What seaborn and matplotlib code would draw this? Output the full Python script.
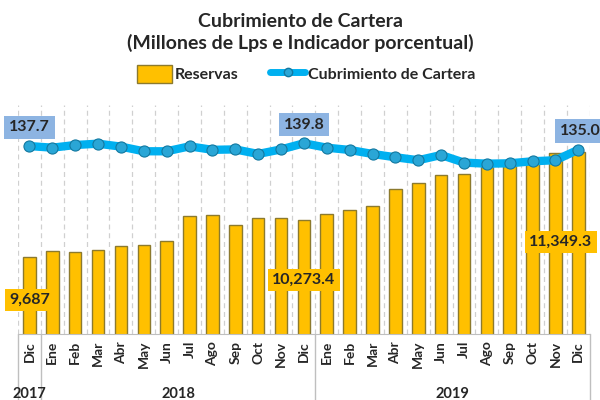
import matplotlib
matplotlib.use("Agg")
import matplotlib.pyplot as plt
import numpy as np
import pandas as pd
import seaborn as sns
from matplotlib.lines import Line2D
from matplotlib.patches import Patch

# data
months = ["Dic", "Ene", "Feb", "Mar", "Abr", "May", "Jun", "Jul", "Ago", "Sep", "Oct", "Nov",
          "Dic", "Ene", "Feb", "Mar", "Abr", "May", "Jun", "Jul", "Ago", "Sep", "Oct", "Nov", "Dic"]
years = ["2017", "2018", "2019"]
reservas = [9687.0, 9782, 9757, 9798, 9856, 9877, 9936, 10327, 10347, 10184, 10304, 10304,
            10273.4, 10368, 10431, 10490, 10754, 10858, 10976, 11001, 11107, 11123, 11186,
            11330, 11349.3]
cubrimiento = [137.7, 136.5, 138.5, 139.5, 137.3, 133.8, 133.8, 137.5, 134.9, 135.2, 131.8,
               135.2, 139.8, 136.5, 134.8, 131.8, 129.3, 127.1, 131.0, 125.3, 124.5, 124.8,
               126.3, 127.1, 135.0]
bar_labels = {0: "9,687", 12: "10,273.4", 24: "11,349.3"}
line_labels = {0: "137.7", 12: "139.8", 24: "135.0"}

GOLD = "#FFC000"
CYAN = "#00B0F0"

df = pd.DataFrame({"idx": np.arange(len(months)), "reservas": reservas,
                   "cubrimiento": cubrimiento})

sns.set_style("white")
plt.rcParams["font.family"] = ["Lato", "DejaVu Sans"]
plt.rcParams["font.weight"] = "bold"

fig = plt.figure(figsize=(6, 4), dpi=100)
ax = fig.add_axes([0.03, 0.165, 0.953, 0.5725])

sns.barplot(data=df, x="idx", y="reservas", color=GOLD, width=0.55,
            edgecolor="#8C7A2E", linewidth=1.0, saturation=1, ax=ax)
ax.set_ylim(8463, 12088)
ax.set_xlim(-0.5, len(months) - 0.5)
ax.set_yticks([])
ax.set_ylabel("")
ax.set_xlabel("")

# dashed vertical grid at category boundaries
for b in np.arange(-0.5, len(months), 1.0):
    ax.axvline(b, color="#D0D0D0", ls=(0, (4, 3)), lw=0.9, zorder=0)

for s in ["top", "right", "left"]:
    ax.spines[s].set_visible(False)
ax.spines["bottom"].set_color("#BFBFBF")

ax.set_xticks(df["idx"])
ax.set_xticklabels(months, rotation=90, fontsize=10, fontweight="bold")
ax.tick_params(axis="x", length=0, pad=5)

# year group separators and labels
for b in [-0.5, 0.5, 12.5, 24.5]:
    ax.plot([b, b], [0, -0.29], transform=ax.get_xaxis_transform(), color="#BFBFBF",
            lw=1, clip_on=False)
for xpos, yr in zip([0, 6.5, 18.5], years):
    ax.text(xpos, -0.26, yr, transform=ax.get_xaxis_transform(), ha="center", va="center",
            fontsize=10.5, fontweight="bold")

# yellow value boxes
box_pos = {0: (0, 9000, "center"), 12: (12, 9318, "center"), 24: (24.62, 9920, "right")}
for i, txt in bar_labels.items():
    xv, yv, ha = box_pos[i]
    ax.text(xv, yv, txt, ha=ha, va="center", fontsize=11.5, fontweight="bold",
            bbox=dict(boxstyle="square,pad=0.25", fc=GOLD, ec="none"), zorder=5)

ax2 = ax.twinx()
sns.lineplot(data=df, x="idx", y="cubrimiento", color=CYAN, lw=6, ax=ax2,
             marker="o", markersize=8, markerfacecolor="#2AA6D6",
             markeredgecolor="#1378A0", markeredgewidth=0.8)
ax2.set_ylim(-3.2, 168.5)
ax2.set_yticks([])
ax2.set_ylabel("")
ax2.set_xlabel("")
for s in ["top", "right", "left", "bottom"]:
    ax2.spines[s].set_visible(False)

for i, txt in line_labels.items():
    ax2.text(i if i < 24 else 24.1, cubrimiento[i] + 14, txt, ha="center", va="center",
             fontsize=11.5, fontweight="bold",
             bbox=dict(boxstyle="square,pad=0.3", fc="#8DB4E2", ec="none"), zorder=5)

fig.text(0.5, 0.947, "Cubrimiento de Cartera", ha="center", va="center",
         fontsize=14, fontweight="bold")
fig.text(0.5, 0.892, "(Millones de Lps e Indicador porcentual)", ha="center", va="center",
         fontsize=14, fontweight="bold")

handles = [Patch(facecolor=GOLD, edgecolor="#8C7A2E"),
           Line2D([0], [0], color=CYAN, lw=5, marker="o", markersize=6,
                  markerfacecolor="#2AA6D6", markeredgecolor="#1378A0")]
fig.legend(handles, ["Reservas", "Cubrimiento de Cartera"], loc="center",
           bbox_to_anchor=(0.51, 0.815), ncol=2, frameon=False, fontsize=11.5,
           handlelength=2.2, handleheight=1.3, handletextpad=0.15, columnspacing=2.0)

fig.savefig("out.png", dpi=100)
